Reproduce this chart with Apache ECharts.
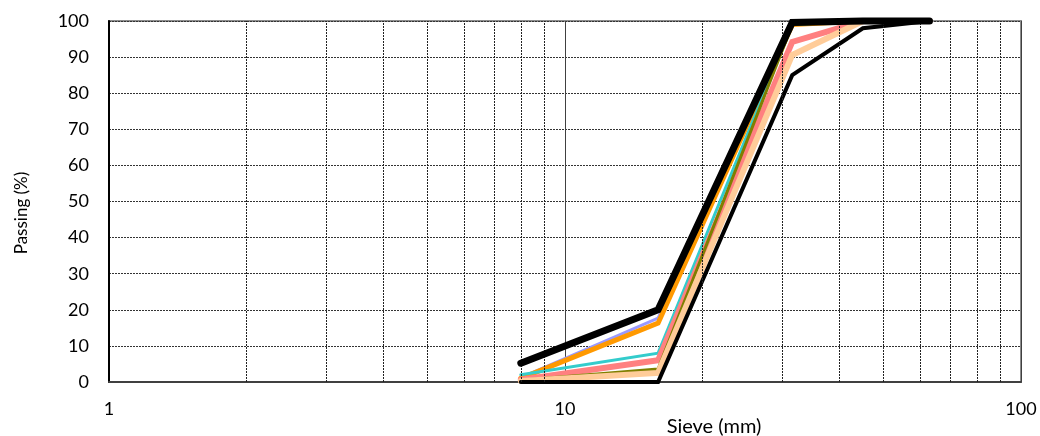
<!DOCTYPE html>
<html><head><meta charset="utf-8">
<script src="https://cdn.jsdelivr.net/npm/echarts@6/dist/echarts.min.js"></script>
<style>html,body{margin:0;padding:0;background:#fff}#c{width:1040px;height:436px}</style>
</head><body><div id="c"></div>
<script>
const sieves = [8, 16, 31.5, 45, 63];
const upperLimit = [5.2, 20, 99.6, 100, 100];
const lowerLimit = [0, 0, 85, 98, 100];
const sampleBlue = [1.2, 17.7, 99, 100, 100];
const sampleOrange = [1.0, 16.3, 99, 100, 100];
const sampleCyan = [2, 8, 99, 100, 100];
const sampleSalmon = [0.6, 6, 94.2, 100, 100];
const sampleOlive = [0.5, 3.6, 99, 100, 100];
const samplePeach = [0.3, 2.5, 90.6, 100, 100];
const yTicks = [0, 10, 20, 30, 40, 50, 60, 70, 80, 90, 100];
const xMajor = [1, 10, 100];
const xMinor = [2, 3, 4, 5, 6, 7, 8, 9, 20, 30, 40, 50, 60, 70, 80, 90];

const FONT = 'Lato';
function pts(vals) { return sieves.map((s, i) => [s, vals[i]]); }
function line(name, vals, color, width, extra) {
  return Object.assign({
    name, type: 'line', data: pts(vals), symbol: 'none', clip: false,
    lineStyle: { color, width, cap: 'round', join: 'miter' }, z: 3
  }, extra || {});
}
const chart = echarts.init(document.getElementById('c'), null, { renderer: 'canvas' });
chart.setOption({
  animation: false,
  backgroundColor: '#fff',
  grid: { left: 109, right: 19, top: 21, bottom: 54, show: true, borderColor: '#8c8c8c', borderWidth: 2, backgroundColor: 'transparent' },
  xAxis: {
    type: 'log', logBase: 10, min: xMajor[0], max: xMajor[xMajor.length - 1],
    axisLine: { show: true, lineStyle: { color: '#404040', width: 2 } },
    axisTick: { show: false },
    axisLabel: { color: '#000', fontFamily: FONT, fontSize: 18, margin: 18 },
    splitLine: { show: true, lineStyle: { color: '#404040', width: 1, type: 'solid' } },
    minorTick: { show: false }
  },
  yAxis: {
    type: 'value', min: yTicks[0], max: yTicks[yTicks.length - 1], interval: 10,
    axisLine: { show: true, lineStyle: { color: '#000', width: 2 } },
    axisTick: { show: false },
    axisLabel: { color: '#000', fontFamily: FONT, fontSize: 18, margin: 20 },
    splitLine: { show: true, lineStyle: { color: '#333', width: 1, type: [2, 1] } }
  },
  graphic: [
    { type: 'text', x: 714, y: 427, style: { text: 'Sieve (mm)', font: '20px ' + FONT, fill: '#000', align: 'center', verticalAlign: 'middle' } },
    { type: 'text', x: 22, y: 213, rotation: Math.PI / 2, style: { text: 'Passing (%)', font: '17px ' + FONT, fill: '#000', align: 'center', verticalAlign: 'middle' } }
  ],
  series: [
    {
      name: 'grid-minor', type: 'line', data: [], z: 1, silent: true,
      markLine: {
        silent: true, symbol: 'none', label: { show: false }, animation: false,
        lineStyle: { color: '#222', width: 1, type: [2, 1] },
        data: xMinor.map(v => ({ xAxis: v }))
      }
    },
    line('Blue', sampleBlue, '#9999ff', 3),
    line('Orange', sampleOrange, '#ff9900', 5),
    line('Cyan', sampleCyan, '#33cccc', 3),
    line('Salmon', sampleSalmon, '#ff8080', 6),
    line('Olive', sampleOlive, '#7f7f00', 3),
    line('Peach', samplePeach, '#ffcc99', 6),
    line('Lower', lowerLimit, '#000', 4, { z: 4 }),
    line('Upper', upperLimit, '#000', 7, { z: 5 })
  ]
});
</script></body></html>
